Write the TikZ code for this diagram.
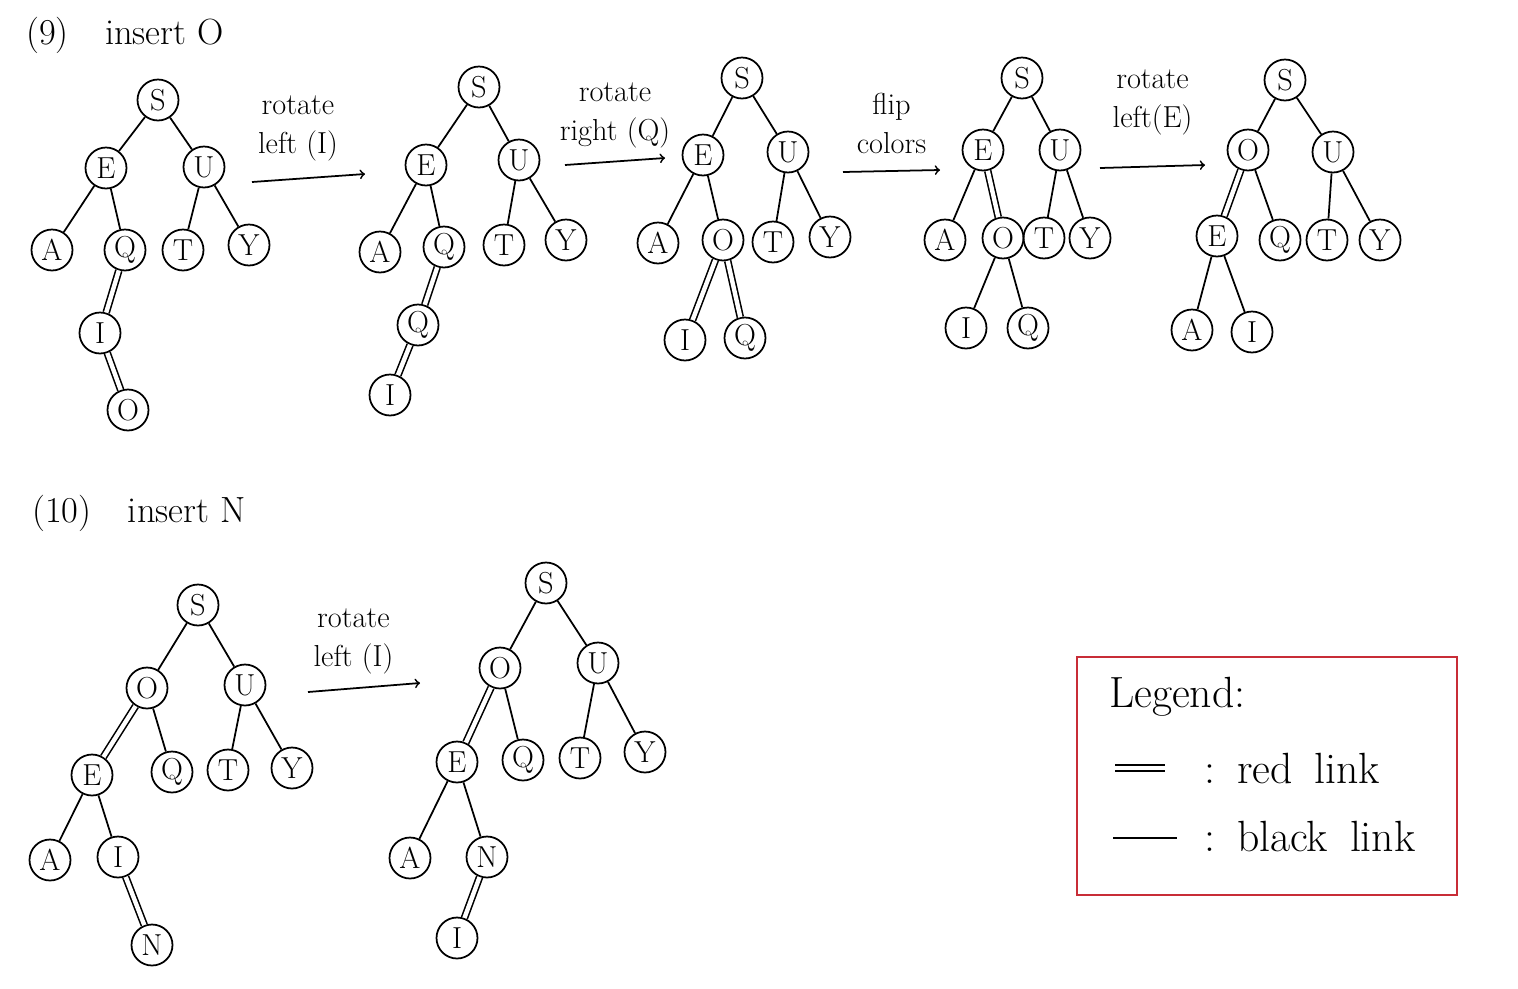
\documentclass[tikz,border=0pt]{standalone}
\definecolor{legendred}{RGB}{200,45,55}
\tikzset{
	key/.style={draw, circle, line width=1pt, minimum size=0.82cm, inner sep=0pt, font=\LARGE},
	blink/.style={line width=1pt},
	rlink/.style={line width=0.9pt, double, double distance=2.5pt},
	note/.style={black, font=\LARGE, align=center},
	title/.style={black, font=\huge, anchor=west},
	step arrow/.style={->, line width=1pt}
}
\begin{document}
\begin{tikzpicture}[x=0.02cm, y=-0.02cm]
	\useasboundingbox (0,0) rectangle (1518,988);

	% titles
	\node [title] (t9) at (20,35) {(9)\quad insert O};
	\node [title] (t10) at (26,513) {(10)\quad insert N};

	% (9) tree 1
	\node [key] (s1) at (158,100) {S};
	\node [key] (e1) at (106,168) {E};
	\node [key] (u1) at (204,167) {U};
	\node [key] (a1) at (52,250) {A};
	\node [key] (q1) at (125,250) {Q};
	\node [key] (t1) at (183,250) {T};
	\node [key] (y1) at (249,245) {Y};
	\node [key] (i1) at (100,333) {I};
	\node [key] (o1) at (128,410) {O};
	\draw [blink] (s1) -- (e1);
	\draw [blink] (s1) -- (u1);
	\draw [blink] (e1) -- (a1);
	\draw [blink] (e1) -- (q1);
	\draw [blink] (u1) -- (t1);
	\draw [blink] (u1) -- (y1);
	\draw [rlink] (q1) -- (i1);
	\draw [rlink] (i1) -- (o1);

	\coordinate (r1a) at (252,182);
	\coordinate (r1b) at (365,174);
	\draw [step arrow] (r1a) -- (r1b)
	node [note, midway, above=6pt, xshift=-6pt] {rotate\\left (I)};

	% tree 2
	\node [key] (s2) at (479,87) {S};
	\node [key] (e2) at (426,165) {E};
	\node [key] (u2) at (519,160) {U};
	\node [key] (a2) at (380,252) {A};
	\node [key] (q2) at (444,247) {Q};
	\node [key] (t2) at (504,245) {T};
	\node [key] (y2) at (566,240) {Y};
	\node [key] (o2) at (418,325) {Q};
	\node [key] (i2) at (390,395) {I};
	\draw [blink] (s2) -- (e2);
	\draw [blink] (s2) -- (u2);
	\draw [blink] (e2) -- (a2);
	\draw [blink] (e2) -- (q2);
	\draw [blink] (u2) -- (t2);
	\draw [blink] (u2) -- (y2);
	\draw [rlink] (q2) -- (o2);
	\draw [rlink] (o2) -- (i2);

	\coordinate (r2a) at (565,165);
	\coordinate (r2b) at (665,158);
	\draw [step arrow] (r2a) -- (r2b)
	node [note, midway, above=4pt] {rotate\\right (Q)};

	% tree 3
	\node [key] (s3) at (742,78) {S};
	\node [key] (e3) at (703,155) {E};
	\node [key] (u3) at (788,152) {U};
	\node [key] (a3) at (658,243) {A};
	\node [key] (o3) at (723,240) {O};
	\node [key] (t3) at (773,242) {T};
	\node [key] (y3) at (830,237) {Y};
	\node [key] (i3) at (685,340) {I};
	\node [key] (q3) at (745,338) {Q};
	\draw [blink] (s3) -- (e3);
	\draw [blink] (s3) -- (u3);
	\draw [blink] (e3) -- (a3);
	\draw [blink] (e3) -- (o3);
	\draw [blink] (u3) -- (t3);
	\draw [blink] (u3) -- (y3);
	\draw [rlink] (o3) -- (i3);
	\draw [rlink] (o3) -- (q3);

	\coordinate (r3a) at (843,172);
	\coordinate (r3b) at (940,170);
	\draw [step arrow] (r3a) -- (r3b)
	node [note, midway, above=6pt] {flip\\colors};

	% tree 4
	\node [key] (s4) at (1022,78) {S};
	\node [key] (e4) at (983,150) {E};
	\node [key] (u4) at (1060,150) {U};
	\node [key] (a4) at (945,240) {A};
	\node [key] (o4) at (1003,238) {O};
	\node [key] (t4) at (1044,238) {T};
	\node [key] (y4) at (1090,238) {Y};
	\node [key] (i4) at (966,328) {I};
	\node [key] (q4) at (1028,328) {Q};
	\draw [blink] (s4) -- (e4);
	\draw [blink] (s4) -- (u4);
	\draw [blink] (e4) -- (a4);
	\draw [rlink] (e4) -- (o4);
	\draw [blink] (u4) -- (t4);
	\draw [blink] (u4) -- (y4);
	\draw [blink] (o4) -- (i4);
	\draw [blink] (o4) -- (q4);

	\coordinate (r4a) at (1100,168);
	\coordinate (r4b) at (1205,165);
	\draw [step arrow] (r4a) -- (r4b)
	node [note, midway, above=14pt] {rotate\\left(E)};

	% tree 5
	\node [key] (s5) at (1285,80) {S};
	\node [key] (o5) at (1248,150) {O};
	\node [key] (u5) at (1333,152) {U};
	\node [key] (e5) at (1217,236) {E};
	\node [key] (q5) at (1280,240) {Q};
	\node [key] (t5) at (1327,240) {T};
	\node [key] (y5) at (1380,240) {Y};
	\node [key] (a5) at (1192,330) {A};
	\node [key] (i5) at (1252,332) {I};
	\draw [blink] (s5) -- (o5);
	\draw [blink] (s5) -- (u5);
	\draw [rlink] (o5) -- (e5);
	\draw [blink] (o5) -- (q5);
	\draw [blink] (u5) -- (t5);
	\draw [blink] (u5) -- (y5);
	\draw [blink] (e5) -- (a5);
	\draw [blink] (e5) -- (i5);

	% (10) tree 6
	\node [key] (s6) at (198,605) {S};
	\node [key] (o6) at (147,688) {O};
	\node [key] (u6) at (245,685) {U};
	\node [key] (e6) at (92,775) {E};
	\node [key] (q6) at (172,772) {Q};
	\node [key] (t6) at (228,770) {T};
	\node [key] (y6) at (292,768) {Y};
	\node [key] (a6) at (50,860) {A};
	\node [key] (i6) at (118,857) {I};
	\node [key] (n6) at (152,945) {N};
	\draw [blink] (s6) -- (o6);
	\draw [blink] (s6) -- (u6);
	\draw [rlink] (o6) -- (e6);
	\draw [blink] (o6) -- (q6);
	\draw [blink] (u6) -- (t6);
	\draw [blink] (u6) -- (y6);
	\draw [blink] (e6) -- (a6);
	\draw [blink] (e6) -- (i6);
	\draw [rlink] (i6) -- (n6);

	\coordinate (r5a) at (308,692);
	\coordinate (r5b) at (420,683);
	\draw [step arrow] (r5a) -- (r5b)
	node [note, midway, above=4pt, xshift=-6pt] {rotate\\left (I)};

	% tree 7
	\node [key] (s7) at (546,583) {S};
	\node [key] (o7) at (500,668) {O};
	\node [key] (u7) at (598,663) {U};
	\node [key] (e7) at (457,762) {E};
	\node [key] (q7) at (523,760) {Q};
	\node [key] (t7) at (580,758) {T};
	\node [key] (y7) at (645,752) {Y};
	\node [key] (a7) at (410,858) {A};
	\node [key] (n7) at (487,857) {N};
	\node [key] (i7) at (457,938) {I};
	\draw [blink] (s7) -- (o7);
	\draw [blink] (s7) -- (u7);
	\draw [rlink] (o7) -- (e7);
	\draw [blink] (o7) -- (q7);
	\draw [blink] (u7) -- (t7);
	\draw [blink] (u7) -- (y7);
	\draw [blink] (e7) -- (a7);
	\draw [blink] (e7) -- (n7);
	\draw [rlink] (n7) -- (i7);

	% legend
	\draw [draw=legendred, line width=1.2pt] (1077,657) rectangle (1457,895);
	\node [note, font=\Huge, anchor=west] (lg) at (1103,697) {Legend:};
	\coordinate (lr1) at (1115,768);
	\coordinate (lr2) at (1165,768);
	\draw [rlink] (lr1) -- (lr2);
	\node [note, font=\Huge, anchor=west] (lrt) at (1198,768) {:\enspace red\enspace link};
	\coordinate (lb1) at (1113,838);
	\coordinate (lb2) at (1177,838);
	\draw [blink] (lb1) -- (lb2);
	\node [note, font=\Huge, anchor=west] (lbt) at (1198,836) {:\enspace black\enspace link};
\end{tikzpicture}
\end{document}
